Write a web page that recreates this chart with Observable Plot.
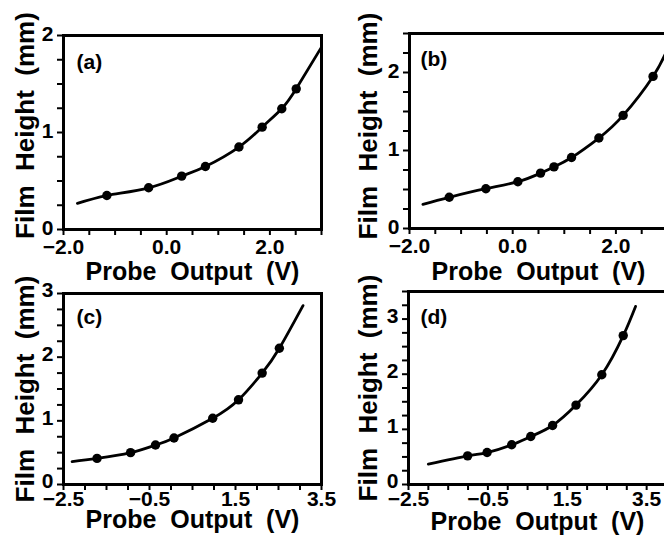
<!DOCTYPE html>
<html><head><meta charset="utf-8">
<script src="https://cdn.jsdelivr.net/npm/d3@7"></script>
<script src="https://cdn.jsdelivr.net/npm/@observablehq/plot@0.6"></script>
<style>
html,body{margin:0;padding:0;background:#fff;overflow:hidden;width:664px;height:543px;}
#wrap{position:relative;width:664px;height:543px;overflow:hidden;background:#fff;}
.panel{position:absolute;}
.panel svg{max-width:none !important;overflow:visible;}
</style></head><body><div id="wrap"></div>
<script>
// ---- text ----
const panelTags = ["(a)", "(b)", "(c)", "(d)"];
const xTitle = "Probe\u00A0\u00A0Output\u00A0\u00A0(V)";
const yTitle = "Film\u00A0\u00A0Height\u00A0\u00A0(mm)";

// ---- tick values ----
const xTicksAB = [-2, -1.5, -1, -0.5, 0, 0.5, 1, 1.5, 2, 2.5, 3];
const xLabelsAB = [-2, 0, 2];
const xTicksCD = [-2.5, -2, -1.5, -1, -0.5, 0, 0.5, 1, 1.5, 2, 2.5, 3, 3.5, 4];
const xLabelsCD = [-2.5, -0.5, 1.5, 3.5];
const yTicksA = [0, 0.25, 0.5, 0.75, 1, 1.25, 1.5, 1.75, 2];
const yTicksB = [0, 0.25, 0.5, 0.75, 1, 1.25, 1.5, 1.75, 2, 2.25, 2.5];
const yTicksC = [0, 0.25, 0.5, 0.75, 1, 1.25, 1.5, 1.75, 2, 2.25, 2.5, 2.75, 3];
const yTicksD = [0, 0.25, 0.5, 0.75, 1, 1.25, 1.5, 1.75, 2, 2.25, 2.5, 2.75, 3, 3.25, 3.5];
const yLabelsA = [0, 1, 2];
const yLabelsB = [0, 1, 2];
const yLabelsC = [0, 1, 2, 3];
const yLabelsD = [0, 1, 2, 3];

// ---- measured points ----
const aPointX = [-1.16, -0.35, 0.29, 0.75, 1.40, 1.85, 2.23, 2.51];
const aPointY = [0.35, 0.43, 0.55, 0.65, 0.85, 1.055, 1.245, 1.45];
const bPointX = [-1.23, -0.52, 0.10, 0.54, 0.80, 1.14, 1.67, 2.14, 2.72];
const bPointY = [0.40, 0.51, 0.60, 0.71, 0.79, 0.91, 1.16, 1.45, 1.95];
const cPointX = [-1.72, -0.94, -0.36, 0.07, 0.97, 1.57, 2.12, 2.52];
const cPointY = [0.41, 0.50, 0.62, 0.73, 1.04, 1.33, 1.75, 2.14];
const dPointX = [-1.01, -0.52, 0.10, 0.58, 1.13, 1.72, 2.37, 2.91];
const dPointY = [0.52, 0.58, 0.72, 0.87, 1.07, 1.44, 1.99, 2.70];

// ---- fitted curves ----
const aCurveX = [-1.73, -1.16, -0.35, 0.29, 0.75, 1.40, 1.85, 2.23, 2.51, 3.0];
const aCurveY = [0.27, 0.35, 0.43, 0.55, 0.65, 0.85, 1.055, 1.245, 1.45, 1.88];
const bCurveX = [-1.74, -1.23, -0.52, 0.10, 0.54, 0.80, 1.14, 1.67, 2.14, 2.72, 3.0];
const bCurveY = [0.31, 0.40, 0.51, 0.60, 0.71, 0.79, 0.91, 1.16, 1.45, 1.95, 2.30];
const cCurveX = [-2.30, -1.72, -0.94, -0.36, 0.07, 0.97, 1.57, 2.12, 2.52, 3.07];
const cCurveY = [0.36, 0.41, 0.50, 0.62, 0.73, 1.04, 1.33, 1.75, 2.14, 2.81];
const dCurveX = [-2.0, -1.01, -0.52, 0.10, 0.58, 1.13, 1.72, 2.37, 2.91, 3.22];
const dCurveY = [0.37, 0.52, 0.58, 0.72, 0.87, 1.07, 1.44, 1.99, 2.70, 3.23];

const FONT = "Liberation Sans, Arial, sans-serif";
const fmt1 = d3.format(".1f");

function zip(xs, ys) { return xs.map((x, i) => ({x, y: ys[i]})); }

function panel(cfg) {
  const pts = zip(cfg.px, cfg.py);
  const crv = zip(cfg.cx, cfg.cy);
  const svg = Plot.plot({
    width: cfg.w, height: cfg.h,
    marginLeft: cfg.ml, marginRight: cfg.mr, marginTop: cfg.mt, marginBottom: cfg.mb,
    x: {domain: cfg.xd},
    y: {domain: cfg.yd},
    style: {fontFamily: FONT, fontWeight: "bold", color: "#000", background: "transparent", overflow: "visible"},
    marks: [
      Plot.axisX({ticks: cfg.xt, tickSize: 6, tickFormat: () => "", strokeWidth: 2, label: null}),
      Plot.axisY({ticks: cfg.yt, tickSize: 6, tickFormat: () => "", strokeWidth: 2, label: null}),
      Plot.text(cfg.xl, {x: d => d, text: d => fmt1(d), frameAnchor: "bottom", dy: cfg.xldy, textAnchor: "middle", lineAnchor: "top", fontSize: 21, fontWeight: "bold", fill: "#000"}),
      Plot.text(cfg.yl, {y: d => d, text: d => String(d), frameAnchor: "left", dx: -10, dy: cfg.yldy, textAnchor: "end", lineAnchor: "middle", fontSize: 21, fontWeight: "bold", fill: "#000"}),
      Plot.frame({stroke: "#000", strokeWidth: 3}),
      Plot.line(crv, {x: "x", y: "y", curve: "natural", stroke: "#000", strokeWidth: 2.8}),
      Plot.dot(pts, {x: "x", y: "y", r: 4.7, fill: "#000", stroke: "none"}),
      Plot.text([cfg.tag], {frameAnchor: "top-left", dx: cfg.tdx, dy: cfg.tdy, textAnchor: "start", lineAnchor: "middle", fontSize: 21, fontWeight: "bold", fill: "#000"}),
      Plot.text([xTitle], {frameAnchor: "bottom", dy: cfg.xtdy, textAnchor: "middle", lineAnchor: "middle", fontSize: 25, fontWeight: "bold", fill: "#000"}),
      Plot.text([yTitle], {frameAnchor: "left", rotate: -90, dx: cfg.ytdx, dy: cfg.ytdy, textAnchor: "middle", lineAnchor: "middle", fontSize: 26, fontWeight: "bold", fill: "#000"})
    ]
  });
  const div = document.createElement("div");
  div.className = "panel";
  div.style.left = cfg.left + "px";
  div.style.top = cfg.top + "px";
  div.appendChild(svg);
  document.getElementById("wrap").appendChild(div);
}

panel({tag: panelTags[0], left: 0, top: 0, w: 332, h: 290, ml: 63, mr: 11, mt: 35, mb: 61,
  xd: [-2, 3], yd: [0, 2], xt: xTicksAB, xl: xLabelsAB, yt: yTicksA, yl: yLabelsA, xldy: 10, yldy: -1,
  px: aPointX, py: aPointY, cx: aCurveX, cy: aCurveY,
  tdx: 13, tdy: 27, xtdy: 42, ytdx: -38, ytdy: -7});
panel({tag: panelTags[1], left: 332, top: 0, w: 340, h: 290, ml: 77, mr: 5, mt: 33, mb: 62,
  xd: [-2, 3], yd: [0, 2.5], xt: xTicksAB, xl: xLabelsAB, yt: yTicksB, yl: yLabelsB, xldy: 10, yldy: -1,
  px: bPointX, py: bPointY, cx: bCurveX, cy: bCurveY,
  tdx: 11, tdy: 26, xtdy: 43, ytdx: -41, ytdy: -5});
panel({tag: panelTags[2], left: 0, top: 272, w: 332, h: 271, ml: 63, mr: 11, mt: 21, mb: 59,
  xd: [-2.5, 3.5], yd: [0, 3], xt: xTicksCD.slice(0, 13), xl: xLabelsCD, yt: yTicksC, yl: yLabelsC, xldy: 7, yldy: -3,
  px: cPointX, py: cPointY, cx: cCurveX, cy: cCurveY,
  tdx: 13, tdy: 24, xtdy: 35, ytdx: -38, ytdy: 0});
panel({tag: panelTags[3], left: 332, top: 272, w: 340, h: 271, ml: 76, mr: 6, mt: 19, mb: 59,
  xd: [-2.5, 4.0], yd: [0, 3.5], xt: xTicksCD, xl: xLabelsCD, yt: yTicksD, yl: yLabelsD, xldy: 7, yldy: -3,
  px: dPointX, py: dPointY, cx: dCurveX, cy: dCurveY,
  tdx: 12, tdy: 26, xtdy: 37, ytdx: -40, ytdy: 0});
</script>
</body></html>
